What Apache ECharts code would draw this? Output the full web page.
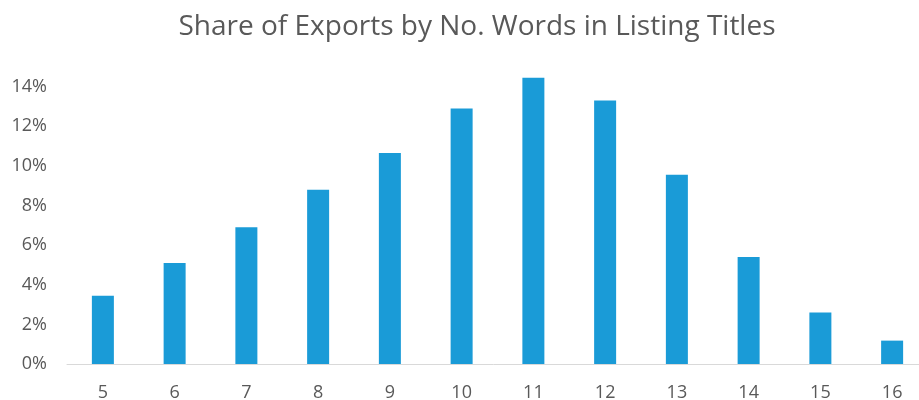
<!DOCTYPE html>
<html>
<head>
<meta charset="utf-8">
<script src="https://cdn.jsdelivr.net/npm/echarts@6/dist/echarts.min.js"></script>
<style>
html,body{margin:0;padding:0;background:#fff;}
#chart{width:919px;height:400px;}
</style>
</head>
<body>
<div id="chart"></div>
<script>
const titleText = 'Share of Exports by No. Words in Listing Titles';
const categories = ['5','6','7','8','9','10','11','12','13','14','15','16'];
const shareValues = [0.0345, 0.051, 0.069, 0.088, 0.1065, 0.129, 0.1445, 0.133, 0.0955, 0.054, 0.026, 0.0118];

const chart = echarts.init(document.getElementById('chart'), null, {renderer: 'canvas'});
chart.setOption({
  animation: false,
  backgroundColor: '#ffffff',
  title: {
    text: titleText,
    left: 472,
    top: 8,
    textAlign: 'center',
    textStyle: {
      fontFamily: 'Open Sans',
      fontSize: 28,
      fontWeight: 'normal',
      color: '#595959'
    }
  },
  grid: {
    left: 67,
    top: 47,
    width: 861,
    height: 317,
    containLabel: false,
    outerBoundsMode: 'none'
  },
  xAxis: {
    type: 'category',
    data: categories,
    axisLine: {lineStyle: {color: '#d9d9d9', width: 1}},
    axisTick: {show: false},
    axisLabel: {
      color: '#595959',
      fontFamily: 'Open Sans',
      fontSize: 18,
      margin: 20
    }
  },
  yAxis: {
    type: 'value',
    min: 0,
    max: 0.16,
    interval: 0.02,
    splitLine: {show: false},
    axisLine: {show: false},
    axisTick: {show: false},
    axisLabel: {
      color: '#595959',
      fontFamily: 'Open Sans',
      fontSize: 18,
      margin: 20,
      formatter: function (v) {
        if (v > 0.15) return '';
        return Math.round(v * 100) + '%';
      }
    }
  },
  series: [{
    type: 'bar',
    data: shareValues,
    barWidth: 22,
    itemStyle: {color: '#1a9bd7'}
  }]
});
</script>
</body>
</html>
